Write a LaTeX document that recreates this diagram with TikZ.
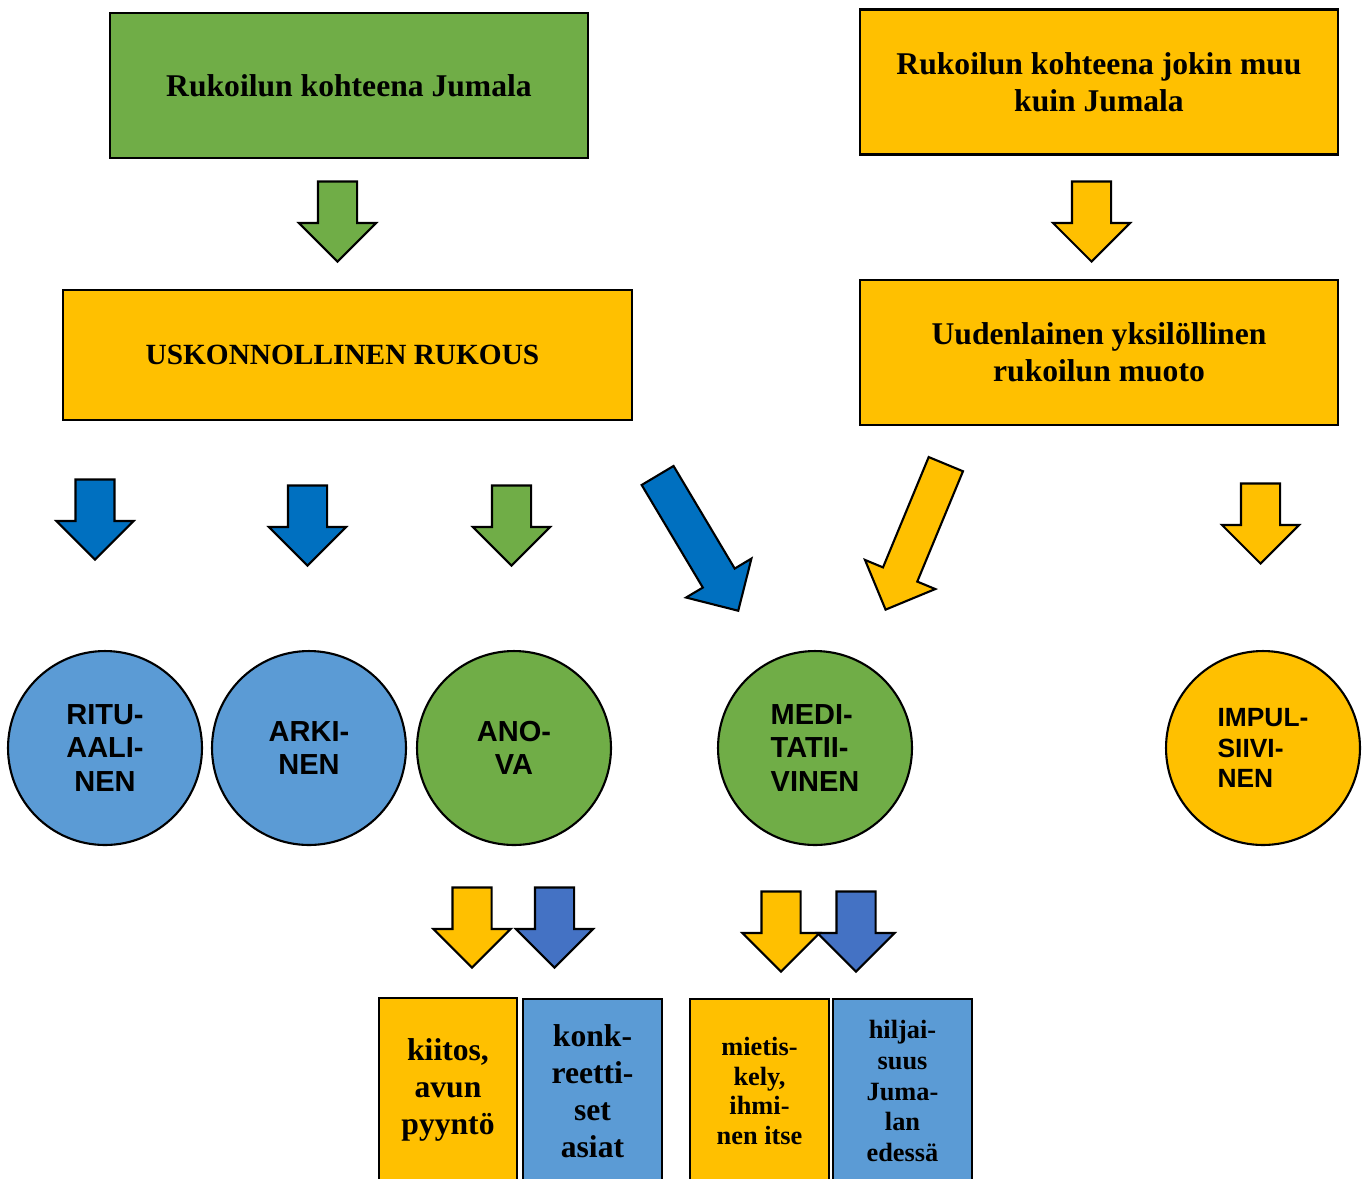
\documentclass[tikz,border=0pt]{standalone}
\usepackage{fontspec}
\setmainfont{Liberation Serif}
\newfontfamily\arialfont{Liberation Sans}
\usepackage{tikz}
\definecolor{leafgreen}{RGB}{112,173,71}
\definecolor{goldyellow}{RGB}{255,192,0}
\definecolor{deepblue}{RGB}{0,112,192}
\definecolor{skyblue}{RGB}{91,155,213}
\definecolor{royalblue}{RGB}{68,114,196}
\usetikzlibrary{shapes.arrows,positioning}

\begin{document}
\begin{tikzpicture}[
    x=0.02cm, y=-0.02cm,
    bigbox/.style={rectangle, draw, line width=1.2pt, align=center, minimum width=9.56cm, minimum height=2.9cm, font=\fontsize{18pt}{21pt}\selectfont\bfseries},
    tallbox/.style={rectangle, draw, line width=1.2pt, align=center, minimum width=2.77cm, minimum height=3.68cm, inner sep=0pt},
    circ/.style={circle, draw, line width=1.2pt, minimum size=3.88cm, inner sep=0pt, align=center, font=\arialfont\bfseries\fontsize{16.5pt}{19pt}\selectfont},
    blockarrow/.style={single arrow, draw, line width=1.2pt, inner xsep=0pt, inner ysep=0.37cm, anchor=tip, minimum height=1.6cm, single arrow head extend=0.38cm, rotate=-90},
    slantarrow/.style={single arrow, draw, line width=1.2pt, inner xsep=0pt, inner ysep=0.35cm, anchor=tip, minimum height=3.15cm, single arrow head extend=0.39cm}
]
\clip (0,0) rectangle (1365,1178);

% top row
\node[bigbox, fill=leafgreen] (godbox) at (349,85.5) {Rukoilun kohteena Jumala};
\node[bigbox, fill=goldyellow] (otherbox) at (1099,82) {Rukoilun kohteena jokin muu\\kuin Jumala};

\node[blockarrow, fill=leafgreen] (godarrow) at (337.5,263) {};
\node[blockarrow, fill=goldyellow] (otherarrow) at (1091.5,263) {};

% second row
\node[bigbox, fill=goldyellow, minimum width=11.38cm, minimum height=2.6cm, font=\fontsize{16.7pt}{19pt}\selectfont\bfseries] (religbox) at (347.5,355) {\hspace*{-0.2cm}USKONNOLLINEN RUKOUS};
\node[bigbox, fill=goldyellow] (newbox) at (1099,352.5) {Uudenlainen yksilöllinen\\rukoilun muoto};

\node[blockarrow, fill=deepblue] (ritarrow) at (95,561) {};
\node[blockarrow, fill=deepblue] (arkarrow) at (307.5,567) {};
\node[blockarrow, fill=leafgreen] (anoarrow) at (511.5,567) {};
\node[slantarrow, fill=deepblue, rotate=-59.2] (medarrow) at (739,612) {};
\node[slantarrow, fill=goldyellow, rotate=-112.5] (newarrow) at (885,611) {};
\node[blockarrow, fill=goldyellow] (impularrow) at (1260.5,565) {};

% circles
\node[circ, fill=skyblue] (ritual) at (105,748) {RITU-\\AALI-\\NEN};
\node[circ, fill=skyblue] (arki) at (309,748) {ARKI-\\NEN};
\node[circ, fill=leafgreen] (anova) at (514,748) {ANO-\\VA};
\node[circ, fill=leafgreen, align=left] (medit) at (815,748) {MEDI-\\TATII-\\VINEN};
\node[circ, fill=goldyellow, align=left, font=\arialfont\bfseries\fontsize{15pt}{17.5pt}\selectfont] (impuls) at (1263,748) {IMPUL-\\SIIVI-\\NEN};

% bottom arrows
\node[blockarrow, fill=goldyellow] (thankarrow) at (472,969) {};
\node[blockarrow, fill=royalblue] (concarrow) at (554.5,969) {};
\node[blockarrow, fill=goldyellow] (reflarrow) at (781,973) {};
\node[blockarrow, fill=royalblue] (silearrow) at (856,973) {};

% bottom boxes
\node[tallbox, fill=goldyellow, font=\fontsize{18pt}{21pt}\selectfont\bfseries] (thanks) at (448,1090) {kiitos,\\avun\\pyyntö};
\node[tallbox, fill=skyblue, font=\fontsize{18pt}{21pt}\selectfont\bfseries] (concrete) at (592.5,1091) {konk-\\reetti-\\set\\asiat};
\node[tallbox, fill=goldyellow, font=\fontsize{15pt}{17pt}\selectfont\bfseries] (reflect) at (759.5,1091) {mietis-\\kely,\\ihmi-\\nen itse};
\node[tallbox, fill=skyblue, font=\fontsize{15pt}{17.5pt}\selectfont\bfseries] (silence) at (902.5,1091) {hiljai-\\suus\\Juma-\\lan\\edessä};

\end{tikzpicture}
\end{document}
